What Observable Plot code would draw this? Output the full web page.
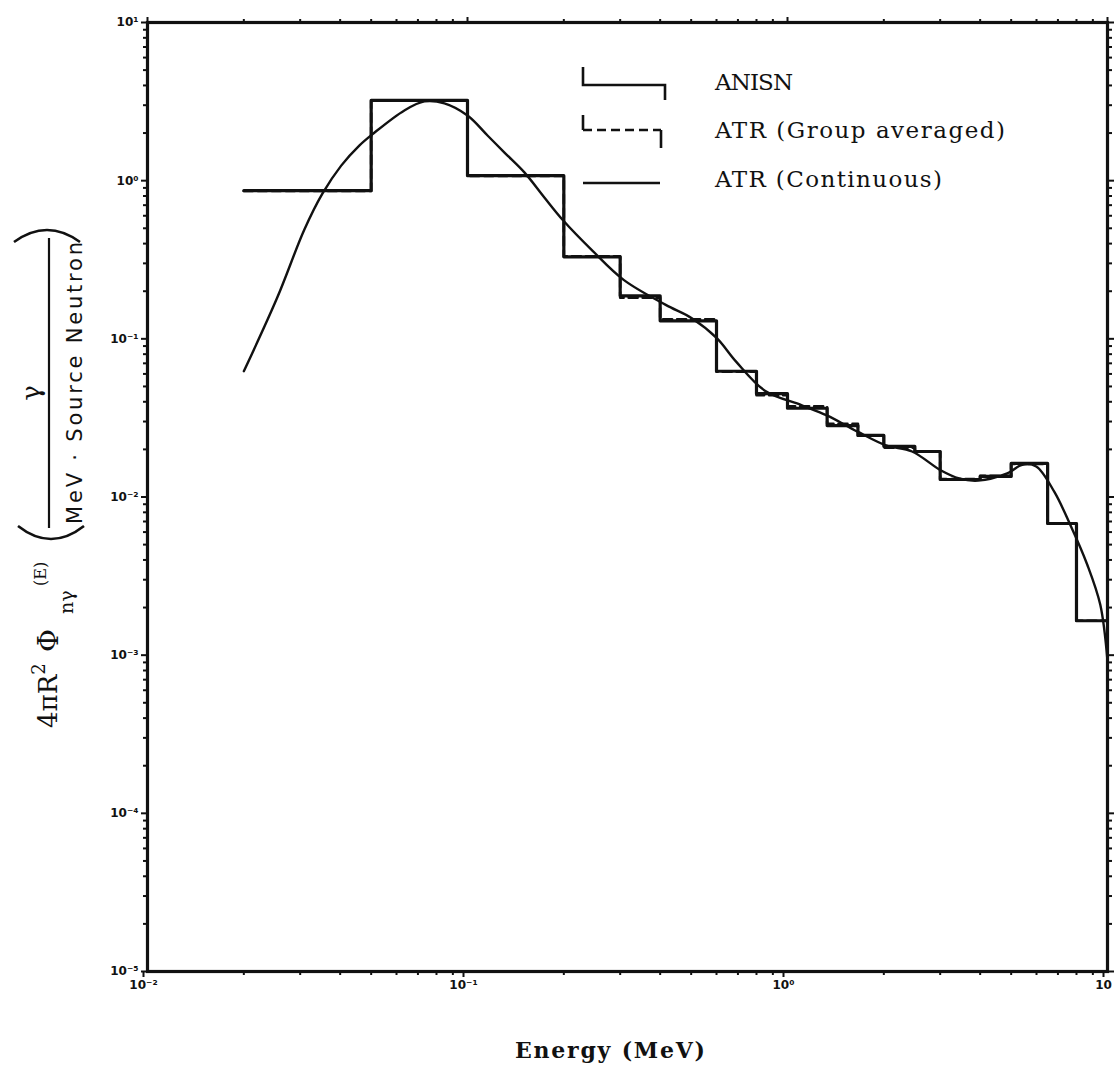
<!DOCTYPE html>
<html>
<head>
<meta charset="utf-8">
<script src="https://cdn.jsdelivr.net/npm/d3@7"></script>
<script src="https://cdn.jsdelivr.net/npm/@observablehq/plot@0.6"></script>
<style>
  html, body { margin: 0; padding: 0; background: #fff; }
  #chart { width: 1115px; height: 1067px; }
</style>
</head>
<body>
<div id="chart"></div>
<script>
// Energy group boundaries (MeV) for the multigroup spectra
const groupEdges = [0.02, 0.05, 0.1, 0.2, 0.3, 0.4, 0.6, 0.8, 1.0, 1.33, 1.66, 2.0, 2.5, 3.0, 4.0, 5.0, 6.5, 8.0, 10.0];

// ANISN group fluxes, one per group
const anisnFlux = [0.864, 3.22, 1.076, 0.330, 0.187, 0.130, 0.0624, 0.045, 0.0364, 0.0283, 0.0245, 0.0209, 0.0194, 0.0129, 0.0135, 0.0163, 0.0068, 0.00165];

// ATR spectrum averaged over the same groups
const atrGroupFlux = [0.86, 3.2, 1.07, 0.332, 0.182, 0.133, 0.062, 0.044, 0.0375, 0.029, 0.0245, 0.0205, 0.0194, 0.0130, 0.0136, 0.0162, 0.0068, 0.00165];

// ATR continuous spectrum
const contEnergy = [0.020, 0.0254, 0.0309, 0.0352, 0.0403, 0.0459, 0.0508, 0.0635, 0.0734, 0.0847, 0.100, 0.1155, 0.1305, 0.1508, 0.1741, 0.1982, 0.246, 0.3076, 0.4164, 0.5023, 0.6013, 0.6897, 0.8498, 1.109, 1.328, 1.649, 2.032, 2.45, 3.02, 3.439, 3.942, 4.859, 5.413, 5.988, 6.816, 7.648, 8.647, 9.495, 10.0];
const contFlux = [0.0624, 0.181, 0.489, 0.827, 1.245, 1.667, 1.987, 2.78, 3.17, 3.08, 2.58, 1.93, 1.505, 1.124, 0.780, 0.566, 0.360, 0.236, 0.164, 0.135, 0.101, 0.072, 0.047, 0.038, 0.0328, 0.026, 0.0212, 0.0194, 0.0147, 0.0131, 0.0127, 0.0141, 0.0160, 0.0156, 0.0108, 0.00668, 0.00373, 0.00208, 0.00092];

// Decade ticks and their labels
const xMajor = [0.01, 0.1, 1, 10];
const xMajorLabels = ["10\u207B\u00B2", "10\u207B\u00B9", "10\u2070", "10"];
const yMajor = [1e-5, 1e-4, 1e-3, 1e-2, 1e-1, 1, 10];
const yMajorLabels = ["10\u207B\u2075", "10\u207B\u2074", "10\u207B\u00B3", "10\u207B\u00B2", "10\u207B\u00B9", "10\u2070", "10\u00B9"];

const legendLabels = ["ANISN", "ATR (Group averaged)", "ATR (Continuous)"];

// Rows for a histogram drawn with a step-after line
function stepRows(edges, values) {
  const rows = values.map((v, i) => ({E: edges[i], flux: v}));
  rows.push({E: edges[edges.length - 1], flux: values[values.length - 1]});
  return rows;
}
const anisnRows = stepRows(groupEdges, anisnFlux);
const atrGroupRows = stepRows(groupEdges, atrGroupFlux);
const contRows = contEnergy.map((E, i) => ({E, flux: contFlux[i]}));

// Intermediate log ticks (2..9 in each decade)
function minorTicks(lo, hi) {
  const t = [];
  for (let e = lo; e < hi; e++) for (let k = 2; k <= 9; k++) t.push(k * Math.pow(10, e));
  return t;
}
const xMinor = minorTicks(-2, 1);
const yMinor = minorTicks(-5, 1);

const ink = "#111";
const blank = () => "";

const chart = Plot.plot({
  width: 1115,
  height: 1067,
  marginLeft: 147,
  marginRight: 8,
  marginTop: 22,
  marginBottom: 96,
  style: {background: "#fff", fontFamily: "'DejaVu Sans', sans-serif", overflow: "visible"},
  x: {type: "log", domain: [0.01, 10]},
  y: {type: "log", domain: [1e-5, 10]},
  marks: [
    // minor ticks on all four sides
    Plot.axisX(xMinor, {anchor: "bottom", tickSize: 4, strokeWidth: 2, stroke: ink, tickFormat: blank, label: null}),
    Plot.axisX(xMinor, {anchor: "top", tickSize: 4, strokeWidth: 2, stroke: ink, tickFormat: blank, label: null}),
    Plot.axisY(yMinor, {anchor: "left", tickSize: 4, strokeWidth: 2, stroke: ink, tickFormat: blank, label: null}),
    Plot.axisY(yMinor, {anchor: "right", tickSize: 4, strokeWidth: 2, stroke: ink, tickFormat: blank, label: null}),
    // decade ticks
    Plot.axisX(xMajor, {anchor: "bottom", tickSize: 6, strokeWidth: 2, stroke: ink, tickPadding: 3, dx: -4,
      tickFormat: d => xMajorLabels[xMajor.indexOf(d)], fontSize: 12, fontWeight: "bold", fill: ink, label: null}),
    Plot.axisX(xMajor, {anchor: "top", tickSize: 6, strokeWidth: 2, stroke: ink, tickFormat: blank, label: null}),
    Plot.axisY(yMajor, {anchor: "left", tickSize: 6, strokeWidth: 2, stroke: ink, tickPadding: 3,
      tickFormat: d => yMajorLabels[yMajor.indexOf(d)], fontSize: 12, fontWeight: "bold", fill: ink, label: null}),
    Plot.axisY(yMajor, {anchor: "right", tickSize: 6, strokeWidth: 2, stroke: ink, tickFormat: blank, label: null}),
    Plot.frame({stroke: ink, strokeWidth: 3.2}),
    // ANISN histogram
    Plot.line(anisnRows, {x: "E", y: "flux", curve: "step-after", stroke: ink, strokeWidth: 3.2}),
    // ATR group-averaged histogram
    Plot.line(atrGroupRows, {x: "E", y: "flux", curve: "step-after", stroke: ink, strokeWidth: 2.6, strokeDasharray: "9,5"}),
    // ATR continuous spectrum
    Plot.line(contRows, {x: "E", y: "flux", curve: "catmull-rom", stroke: ink, strokeWidth: 2.4})
  ]
});

document.getElementById("chart").appendChild(chart);
const svg = d3.select(chart);

// Legend
const lg = svg.append("g").attr("fill", "none").attr("stroke", ink).attr("stroke-width", 2.6);
lg.append("path").attr("d", "M583,67V85H665V100");
lg.append("path").attr("d", "M583,115V130");
lg.append("path").attr("d", "M583,130H661").attr("stroke-dasharray", "9,5");
lg.append("path").attr("d", "M661,130V148");
lg.append("path").attr("d", "M583,183H660");
const lt = svg.append("g").attr("fill", ink).attr("text-anchor", "start")
  .attr("font-family", "'DejaVu Serif', serif").attr("font-size", 23);
lt.append("text").attr("x", 715).attr("y", 90).attr("textLength", 78).text(legendLabels[0]);
lt.append("text").attr("x", 715).attr("y", 138).attr("textLength", 290).text(legendLabels[1]);
lt.append("text").attr("x", 715).attr("y", 187).attr("textLength", 227).text(legendLabels[2]);

// x-axis title
svg.append("text")
  .attr("x", 610).attr("y", 1058)
  .attr("text-anchor", "middle")
  .attr("font-family", "'DejaVu Serif', serif").attr("font-weight", "bold").attr("font-size", 22)
  .attr("textLength", 190)
  .attr("fill", ink)
  .text("Energy (MeV)");

// y-axis title: 4πR² Φnγ(E) (γ / MeV·Source Neutron)
const yl = svg.append("g").attr("transform", "rotate(-90)").attr("fill", ink)
  .attr("text-anchor", "start").attr("font-family", "'DejaVu Serif', serif");
const t1 = yl.append("text").attr("x", -728).attr("y", 57).attr("font-size", 26);
t1.append("tspan").text("4\u03C0R");
t1.append("tspan").attr("dy", -12).attr("font-size", 18).text("2");
yl.append("text").attr("x", -652).attr("y", 58).attr("font-size", 28).text("\u03A6");
yl.append("text").attr("x", -614).attr("y", 73).attr("font-size", 19).text("n\u03B3");
yl.append("text").attr("x", -586).attr("y", 46).attr("font-size", 16).text("(E)");
yl.append("text").attr("x", -393).attr("y", 40).attr("font-size", 26).attr("text-anchor", "middle").text("\u03B3");
yl.append("text").attr("x", -383).attr("y", 82).attr("font-size", 21).attr("text-anchor", "middle")
  .attr("font-family", "'DejaVu Sans', sans-serif").attr("textLength", 282).text("MeV \u00B7 Source Neutron");

const br = svg.append("g").attr("fill", "none").attr("stroke", ink).attr("stroke-width", 2.6);
br.append("path").attr("d", "M18,526Q51,552 84,526");   // opening parenthesis
br.append("path").attr("d", "M14,242Q47,218 80,242");   // closing parenthesis
br.append("path").attr("d", "M49,238V528").attr("stroke-width", 2.2); // fraction bar
</script>
</body>
</html>
